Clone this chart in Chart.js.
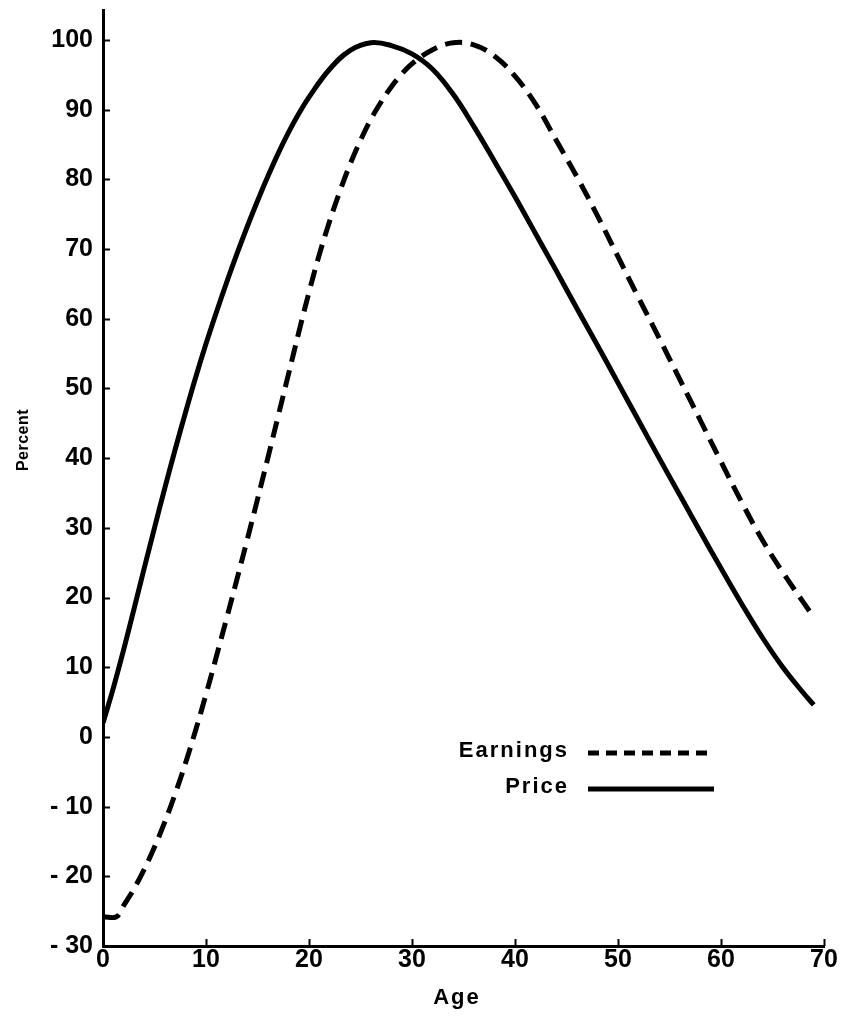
<!DOCTYPE html>
<html>
<head>
<meta charset="utf-8">
<script src="https://cdn.jsdelivr.net/npm/chart.js@4/dist/chart.umd.min.js"></script>
<style>
  html, body { margin: 0; padding: 0; background: #fff; }
  #wrap { width: 841px; height: 1019px; }
</style>
</head>
<body>
<div id="wrap"><canvas id="chart" width="841" height="1019"></canvas></div>
<script>
// Earnings vs price profile by age (percent of peak)
const ages = [0, 1, 2, 3, 4, 5, 6, 7, 8, 9, 10, 11, 12, 13, 14, 15, 16, 17, 18, 19, 20, 22, 24, 26, 28, 30,
              32, 34, 36, 38, 40, 42, 44, 46, 48, 50, 52, 54, 56, 58, 60, 62, 64, 66, 68, 69];
const price = [2, 7, 12.5, 18.3, 24.2, 30, 35.7, 41.2, 46.5, 51.6, 56.4, 60.9, 65.2, 69.3, 73.2, 76.9, 80.4, 83.7, 86.7, 89.4, 91.8,
               95.8, 98.5, 99.6, 99.2, 98,
               95.8, 92.2, 87.6, 82.6, 77.5, 72.2, 66.9, 61.5, 56.2, 50.8, 45.4, 40, 34.7, 29.4, 24.2, 19.1, 14.3, 10, 6.3, 4.6];

const earnAges = [0, 1.3, 2, 3, 4, 5, 6, 7, 8, 9, 10, 11, 12, 13, 14, 15, 16, 17, 18, 19, 20, 21, 22, 23, 24, 25,
                  26, 27, 28, 29, 30, 32, 34, 36, 38, 40, 42, 44, 46, 48, 50, 52, 54, 56, 58, 60, 62, 64, 66, 68, 69];
const earnings = [-25.8, -25.8, -24.2, -21.8, -19, -15.8, -12.2, -8.2, -3.8, 1, 6.1, 11.5, 17, 22.6, 28.3, 34.1, 40, 46,
                  52, 58, 63.8, 69.2, 74, 78.3, 82.2, 85.6, 88.6, 91.1, 93.3, 95.1, 96.6, 98.6, 99.6, 99.3, 97.7, 94.8,
                  90.8, 85.6, 80.4, 74.8, 68.9, 63, 57.2, 51.3, 45.4, 39.5, 33.7, 28.3, 23.6, 19.3, 17.2];

const xTicks = [0, 10, 20, 30, 40, 50, 60, 70];
const yTicks = [-30, -20, -10, 0, 10, 20, 30, 40, 50, 60, 70, 80, 90, 100];

const legendItems = [
    { label: 'Earnings', dash: [11, 7] },
    { label: 'Price', dash: [] }
];

const FONT = '"Liberation Sans", Arial, Helvetica, sans-serif';
const INK = '#000';

function toXY(xs, ys) {
    return xs.map((x, i) => ({ x, y: ys[i] }));
}

// inward tick marks on both axes
const innerTicks = {
    id: 'innerTicks',
    afterDraw(chart) {
        const { ctx, scales: { x, y } } = chart;
        ctx.save();
        ctx.strokeStyle = INK;
        ctx.lineWidth = 2;
        yTicks.forEach(v => {
            const py = Math.round(y.getPixelForValue(v)) + 0.5;
            ctx.beginPath();
            ctx.moveTo(x.left, py);
            ctx.lineTo(x.left + 7, py);
            ctx.stroke();
        });
        xTicks.forEach(v => {
            const px = Math.round(x.getPixelForValue(v)) + 0.5;
            ctx.beginPath();
            ctx.moveTo(px, y.bottom);
            ctx.lineTo(px, y.bottom - 7);
            ctx.stroke();
        });
        ctx.restore();
    }
};

// axis titles and the little key in the lower right
const annotations = {
    id: 'annotations',
    afterDraw(chart) {
        const { ctx } = chart;
        ctx.save();
        ctx.fillStyle = INK;
        ctx.strokeStyle = INK;
        ctx.letterSpacing = '2px';
        ctx.font = `bold 22px ${FONT}`;
        ctx.textBaseline = 'middle';

        ctx.textAlign = 'right';
        legendItems.forEach((item, i) => {
            const cy = 751 + i * 36;
            ctx.fillText(item.label, 569, cy);
            ctx.lineWidth = 5;
            ctx.setLineDash(item.dash);
            ctx.beginPath();
            ctx.moveTo(588, cy + 2);
            ctx.lineTo(714, cy + 2);
            ctx.stroke();
        });
        ctx.setLineDash([]);

        ctx.textAlign = 'center';
        ctx.font = `bold 22px ${FONT}`;
        ctx.fillText('Age', 457, 998);

        ctx.font = `bold 16px ${FONT}`;
        ctx.letterSpacing = '0.5px';
        ctx.translate(24, 440);
        ctx.rotate(-Math.PI / 2);
        ctx.fillText('Percent', 0, 0);
        ctx.restore();
    }
};

new Chart(document.getElementById('chart'), {
    type: 'line',
    data: {
        datasets: [
            {
                label: 'Earnings',
                data: toXY(earnAges, earnings),
                borderColor: INK,
                borderWidth: 5,
                borderDash: [17, 9],
                pointRadius: 0,
                tension: 0.4,
                fill: false
            },
            {
                label: 'Price',
                data: toXY(ages, price),
                borderColor: INK,
                borderWidth: 5,
                pointRadius: 0,
                tension: 0.4,
                fill: false
            }
        ]
    },
    options: {
        responsive: false,
        animation: false,
        layout: { padding: { left: 0, right: 17, top: 10, bottom: 0 } },
        plugins: {
            legend: { display: false },
            tooltip: { enabled: false }
        },
        scales: {
            x: {
                type: 'linear',
                min: 0,
                max: 70,
                afterBuildTicks(scale) { scale.ticks = xTicks.map(v => ({ value: v })); },
                afterFit(scale) { scale.height = 73; },
                grid: { display: false, drawTicks: false },
                border: { display: true, color: INK, width: 3 },
                ticks: {
                    color: INK,
                    padding: 2,
                    maxRotation: 0,
                    font: { family: FONT, size: 25, weight: 'bold', lineHeight: 1 },
                    callback: v => String(v)
                }
            },
            y: {
                type: 'linear',
                min: -30,
                max: 104.3,
                afterBuildTicks(scale) { scale.ticks = yTicks.map(v => ({ value: v })); },
                afterFit(scale) {
                    scale.width = 103;
                    scale.paddingTop = 0;
                    scale.paddingBottom = 0;
                },
                grid: { display: false, drawTicks: false },
                border: { display: true, color: INK, width: 3 },
                ticks: {
                    color: INK,
                    padding: 10,
                    font: { family: FONT, size: 25, weight: 'bold', lineHeight: 1 },
                    callback: v => v < 0 ? '- ' + Math.abs(v) : String(v)
                }
            }
        }
    },
    plugins: [innerTicks, annotations]
});
</script>
</body>
</html>
